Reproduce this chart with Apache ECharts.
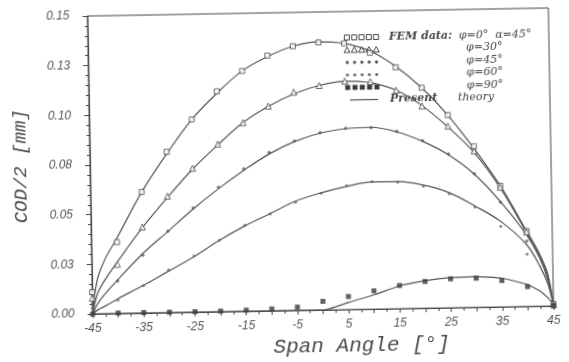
<!DOCTYPE html>
<html>
<head>
<meta charset="utf-8">
<script src="https://cdn.jsdelivr.net/npm/echarts@6/dist/echarts.min.js"></script>
<style>
  html, body { margin: 0; padding: 0; background: #fff; }
  /* the scanned figure sits about 1 degree off level */
  #view { width: 569px; height: 362px; transform: rotate(-1deg); transform-origin: 320px 162px; }
</style>
</head>
<body>
<div id="view"></div>
<script>
// FEM data points (span angle in degrees)
var angles = [-45, -40, -35, -30, -25, -20, -15, -10, -5, 0, 5, 10, 15, 20, 25, 30, 35, 40, 45];
var fem0  = [0.011, 0.036, 0.061, 0.081, 0.097, 0.111, 0.121, 0.1285, 0.133, 0.1347, 0.134, 0.129, 0.1215, 0.111, 0.097, 0.081, 0.061, 0.038, 0.001];
var fem30 = [0.008, 0.0248, 0.0434, 0.0587, 0.0725, 0.0844, 0.095, 0.1031, 0.1099, 0.113, 0.115, 0.1145, 0.110, 0.1018, 0.0915, 0.0787, 0.0603, 0.0375, 0.001];
var fem45 = [0.005, 0.0164, 0.0292, 0.041, 0.0525, 0.0627, 0.0717, 0.0798, 0.0854, 0.0893, 0.0913, 0.0914, 0.0892, 0.0843, 0.0774, 0.0672, 0.0528, 0.0329, 0.001];
var fem60 = [0.003, 0.0069, 0.0139, 0.0215, 0.0284, 0.036, 0.0433, 0.0489, 0.0545, 0.0588, 0.0624, 0.0642, 0.0637, 0.0614, 0.0574, 0.0505, 0.0406, 0.0263, 0.001];
var fem90 = [0, 0.0003, 0.0003, 0.0003, 0.0003, 0.0004, 0.0006, 0.0010, 0.0017, 0.0044, 0.0066, 0.0092, 0.0117, 0.0135, 0.0146, 0.0147, 0.0133, 0.0100, 0];

// present theory curves
var thAngles = [-45, -44, -42.5, -40, -35, -30, -25, -20, -15, -10, -5, 0, 5, 10, 15, 20, 25, 30, 35, 40, 42.5, 44, 45];
var th0  = [0, 0.017, 0.027, 0.038, 0.061, 0.080, 0.097, 0.110, 0.121, 0.128, 0.133, 0.135, 0.134, 0.130, 0.122, 0.111, 0.097, 0.080, 0.061, 0.038, 0.026, 0.016, 0];
var th30 = [0, 0.010, 0.017, 0.026, 0.043, 0.058, 0.072, 0.084, 0.095, 0.103, 0.109, 0.113, 0.115, 0.114, 0.110, 0.102, 0.091, 0.078, 0.060, 0.037, 0.025, 0.015, 0];
var th45 = [0, 0.005, 0.010, 0.017, 0.030, 0.041, 0.052, 0.062, 0.071, 0.079, 0.085, 0.089, 0.091, 0.0915, 0.089, 0.084, 0.077, 0.067, 0.053, 0.036, 0.024, 0.013, 0];
var th60 = [0, 0.002, 0.004, 0.0075, 0.014, 0.021, 0.028, 0.036, 0.043, 0.049, 0.055, 0.059, 0.062, 0.064, 0.064, 0.062, 0.058, 0.051, 0.043, 0.031, 0.020, 0.011, 0];
var th90 = [0, 0, 0, 0, 0, 0, 0, 0, 0, 0, 0, 0, 0.0036, 0.0072, 0.0115, 0.0138, 0.0152, 0.0155, 0.0145, 0.011, 0.0075, 0.004, 0.001];

var yLabels = ['0.00', '0.03', '0.05', '0.08', '0.10', '0.13', '0.15'];
var legendRows = ['FEM data:', '\u03c6=30\u00b0', '\u03c6=45\u00b0', '\u03c6=60\u00b0', '\u03c6=90\u00b0'];

var ink = '#474747';

function pairs(xs, ys) {
  return xs.map(function (x, i) { return [x, ys[i]]; });
}

var femStyles = [
  { symbol: 'rect', size: 5, itemStyle: { color: '#fff', borderColor: ink, borderWidth: 1 } },
  { symbol: 'triangle', size: 6, itemStyle: { color: '#fff', borderColor: ink, borderWidth: 1 } },
  { symbol: 'diamond', size: 4, itemStyle: { color: '#555' } },
  { symbol: 'circle', size: 3, itemStyle: { color: '#666' } },
  { symbol: 'rect', size: 5, itemStyle: { color: '#3a3a3a' } }
];
var femData = [fem0, fem30, fem45, fem60, fem90];
var thData = [th0, th30, th45, th60, th90];

var series = [];
thData.forEach(function (d, k) {
  series.push({
    type: 'line',
    data: pairs(thAngles, d),
    showSymbol: false,
    smooth: k === 4 ? 0.15 : 0.35,
    lineStyle: { color: '#555', width: 1.2 },
    silent: true,
    z: 2
  });
});
femData.forEach(function (d, k) {
  series.push({
    type: 'scatter',
    data: pairs(angles, d),
    symbol: femStyles[k].symbol,
    symbolSize: femStyles[k].size,
    itemStyle: femStyles[k].itemStyle,
    z: 3
  });
});

// hand-made legend in the upper right
var graphic = [];
var rowY = [38, 50.5, 63, 75.5, 88, 100.5];
for (var r = 0; r < 5; r++) {
  for (var i = 0; i < 5; i++) {
    var cx = 349 + i * 7.3, cy = rowY[r];
    var st = femStyles[r];
    var shape;
    if (st.symbol === 'rect') {
      shape = { type: 'rect', shape: { x: cx - 2.5, y: cy - 2.5, width: 5, height: 5 } };
    } else if (st.symbol === 'triangle') {
      shape = { type: 'polygon', shape: { points: [[cx, cy - 3], [cx + 3, cy + 2.5], [cx - 3, cy + 2.5]] } };
    } else if (st.symbol === 'diamond') {
      shape = { type: 'polygon', shape: { points: [[cx, cy - 2], [cx + 2, cy], [cx, cy + 2], [cx - 2, cy]] } };
    } else {
      shape = { type: 'circle', shape: { cx: cx, cy: cy, r: 1.5 } };
    }
    shape.style = {
      fill: st.itemStyle.color,
      stroke: st.itemStyle.borderColor || null,
      lineWidth: st.itemStyle.borderWidth || 0
    };
    graphic.push(shape);
  }
}
graphic.push({ type: 'line', shape: { x1: 351, y1: rowY[5], x2: 379, y2: rowY[5] }, style: { stroke: '#555', lineWidth: 1.2 } });

var legendFont = 'italic 11px "DejaVu Serif"';
graphic.push({ type: 'text', x: 391, y: rowY[0], style: { text: legendRows[0], font: 'italic bold 11px "DejaVu Serif"', fill: ink, verticalAlign: 'middle' } });
graphic.push({ type: 'text', x: 461, y: rowY[0], style: { text: '\u03c6=0\u00b0  \u03b1=45\u00b0', font: legendFont, fill: ink, verticalAlign: 'middle' } });
for (var r2 = 1; r2 < 5; r2++) {
  graphic.push({ type: 'text', x: 468, y: rowY[r2], style: { text: legendRows[r2], font: legendFont, fill: ink, verticalAlign: 'middle' } });
}
graphic.push({ type: 'text', x: 391, y: rowY[5], style: { text: 'Present', font: 'italic bold 11px "DejaVu Serif"', fill: ink, verticalAlign: 'middle' } });
graphic.push({ type: 'text', x: 459, y: rowY[5], style: { text: 'theory', font: legendFont, fill: ink, verticalAlign: 'middle' } });

var option = {
  backgroundColor: '#fff',
  animation: false,
  grid: {
    left: 90,
    top: 12,
    width: 461,
    height: 300,
    show: true,
    borderColor: ink,
    borderWidth: 1,
    backgroundColor: 'transparent'
  },
  xAxis: {
    type: 'value',
    min: -45,
    max: 45,
    interval: 5,
    name: 'Span Angle [\u00b0]',
    nameLocation: 'middle',
    nameGap: 23,
    nameTextStyle: { fontFamily: 'Liberation Mono', fontStyle: 'italic', fontSize: 21, color: '#4a4a4a', padding: [0, 0, 0, 76] },
    axisLine: { onZero: false, lineStyle: { color: ink, width: 1.2 } },
    axisTick: { length: 4, lineStyle: { color: ink } },
    minorTick: { show: true, splitNumber: 2, length: 3, lineStyle: { color: ink } },
    splitLine: { show: false },
    axisLabel: {
      margin: 9,
      fontFamily: 'Liberation Sans',
      fontStyle: 'italic',
      fontSize: 12,
      color: '#555',
      formatter: function (v) {
        return Math.round(v + 45) % 10 === 0 ? String(v) : '';
      }
    }
  },
  yAxis: {
    type: 'value',
    min: 0,
    max: 0.15,
    interval: 0.025,
    name: 'COD/2 [mm]',
    nameLocation: 'middle',
    nameGap: 60,
    nameTextStyle: { fontFamily: 'Liberation Mono', fontStyle: 'italic', fontSize: 19, color: '#4a4a4a' },
    axisLine: { onZero: false, lineStyle: { color: ink, width: 1.2 } },
    axisTick: { length: 5, lineStyle: { color: ink } },
    minorTick: { show: true, splitNumber: 5, length: 3, lineStyle: { color: ink } },
    splitLine: { show: false },
    axisLabel: {
      margin: 18,
      fontFamily: 'Liberation Sans',
      fontStyle: 'italic',
      fontSize: 12,
      color: '#555',
      formatter: function (v) {
        return yLabels[Math.round(v / 0.025)];
      }
    }
  },
  graphic: graphic,
  series: series
};

echarts.init(document.getElementById('view')).setOption(option);
</script>
</body>
</html>
